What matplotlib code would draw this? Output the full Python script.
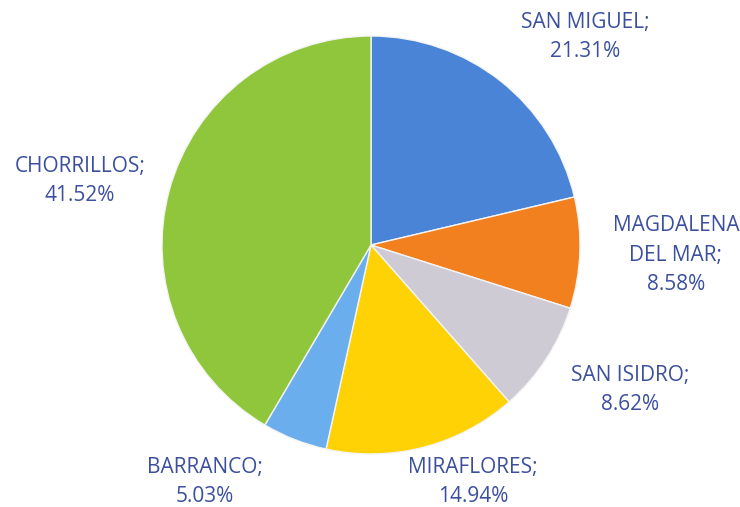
import matplotlib.pyplot as plt

# datos del grafico
distritos = ['SAN MIGUEL', 'MAGDALENA\nDEL MAR', 'SAN ISIDRO', 'MIRAFLORES', 'BARRANCO', 'CHORRILLOS']
porcentajes = [21.31, 8.58, 8.62, 14.94, 5.03, 41.52]
colores = ['#4a84d6', '#f3801f', '#cfcbd4', '#ffd206', '#6aaeee', '#90c63c']

# posicion de cada etiqueta (en radios del pie)
pos_etiquetas = [(1.024, 0.995), (1.459, -0.048), (1.239, -0.694),
                 (0.488, -1.134), (-0.794, -1.134), (-1.392, 0.306)]

plt.rcParams['font.family'] = ['Open Sans', 'DejaVu Sans']

fig = plt.figure(figsize=(7.4, 5.07), dpi=100)
ax = fig.add_axes([162 / 740, 53 / 507, 418 / 740, 418 / 507])

ax.pie(porcentajes, colors=colores, startangle=90, counterclock=False,
       radius=1, wedgeprops={'edgecolor': '#f4f4f4', 'linewidth': 1})

for nombre, valor, (x, y) in zip(distritos, porcentajes, pos_etiquetas):
    ax.text(x, y, f'{nombre};\n{valor:.2f}%', ha='center', va='center',
            fontsize=15, color='#3b4f9e', linespacing=1.55, clip_on=False)

ax.set_xlim(-1, 1)
ax.set_ylim(-1, 1)
ax.set_aspect('equal')
ax.axis('off')

fig.savefig('out.png', dpi=100)
